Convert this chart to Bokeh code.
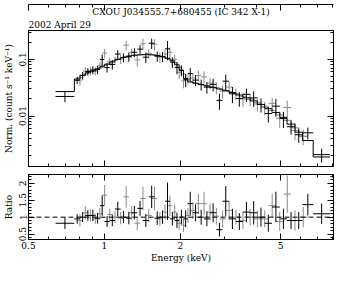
import numpy as np
from bokeh.plotting import figure
from bokeh.layouts import column
from bokeh.models import (FixedTicker, LogAxis, LinearAxis, Range1d, Span, Title,
                          ColumnDataSource, NumeralTickFormatter, CustomLabelingPolicy)
from bokeh.embed import file_html
from bokeh.resources import INLINE

# ---------------- data ----------------
title_text = "CXOU J034555.7+680455 (IC 342 X-1)"
date_text = "2002 April 29"

black_edges = [0.64, 0.76, 0.80, 0.84, 0.88, 0.92, 0.96, 1.00, 1.05, 1.10, 1.16, 1.22,
               1.28, 1.35, 1.42, 1.50, 1.58, 1.66, 1.74, 1.82, 1.90, 1.98, 2.06, 2.14,
               2.24, 2.36, 2.48, 2.62, 2.78, 2.94, 3.12, 3.32, 3.54, 3.78, 4.04, 4.32,
               4.62, 4.96, 5.30, 5.70, 6.10, 6.73, 7.85]
black_model = [0.027, 0.045, 0.052, 0.058, 0.062, 0.068, 0.074, 0.082, 0.090, 0.100,
               0.108, 0.114, 0.118, 0.120, 0.121, 0.120, 0.117, 0.112, 0.104, 0.094,
               0.080, 0.064, 0.046, 0.040, 0.038, 0.036, 0.034, 0.032, 0.030, 0.028,
               0.026, 0.0235, 0.021, 0.0185, 0.016, 0.0135, 0.0115, 0.0095, 0.0072,
               0.0052, 0.0037, 0.0019]
black_ratio = [0.82, 0.95, 1.00, 1.05, 1.05, 0.97, 1.34, 0.87, 0.90, 1.24, 1.00, 0.97,
               1.13, 1.26, 0.90, 1.60, 0.97, 1.00, 1.47, 0.95, 0.90, 1.00, 0.95, 1.40,
               1.13, 1.00, 0.95, 1.13, 0.63, 1.47, 0.95, 0.87, 1.15, 1.13, 1.00, 0.82,
               1.30, 0.95, 0.90, 0.90, 1.37, 1.10]
black_err = [0.17, 0.14, 0.15, 0.16, 0.17, 0.16, 0.30, 0.16, 0.17, 0.21, 0.18, 0.18,
             0.20, 0.22, 0.19, 0.33, 0.20, 0.20, 0.55, 0.20, 0.22, 0.22, 0.25, 0.35,
             0.25, 0.22, 0.22, 0.28, 0.20, 0.45, 0.30, 0.25, 0.30, 0.35, 0.28, 0.25,
             0.45, 0.30, 0.25, 0.25, 0.32, 0.30]

gray_edges = [0.78, 0.82, 0.86, 0.90, 0.94, 0.98, 1.025, 1.075, 1.13, 1.19, 1.25, 1.315,
              1.385, 1.46, 1.54, 1.62, 1.70, 1.78, 1.86, 1.94, 2.02, 2.10, 2.19, 2.30,
              2.42, 2.55, 2.70, 2.86, 3.03, 3.22, 3.43, 3.66, 3.91, 4.18, 4.47, 4.79,
              5.13, 5.50, 5.90, 6.40]
gray_model = [0.048, 0.055, 0.060, 0.065, 0.071, 0.078, 0.086, 0.095, 0.104, 0.111,
              0.116, 0.119, 0.121, 0.121, 0.119, 0.115, 0.108, 0.099, 0.087, 0.072,
              0.055, 0.043, 0.039, 0.037, 0.035, 0.033, 0.031, 0.029, 0.027, 0.0248,
              0.0222, 0.0198, 0.0172, 0.0148, 0.0125, 0.0105, 0.0084, 0.0062, 0.0044]
gray_ratio = [0.90, 1.13, 1.05, 0.95, 1.10, 1.65, 1.08, 1.00, 0.97, 1.60, 1.13, 0.82,
              1.55, 1.05, 1.55, 0.95, 1.15, 1.34, 1.15, 0.82, 0.76, 1.05, 1.20, 1.40,
              1.40, 1.15, 1.03, 0.95, 1.20, 1.00, 0.90, 1.00, 0.95, 0.95, 1.34, 0.87,
              1.68, 0.90, 1.00]
gray_err = [0.18, 0.20, 0.18, 0.15, 0.18, 0.30, 0.17, 0.17, 0.18, 0.32, 0.20, 0.20,
            0.35, 0.20, 0.35, 0.20, 0.22, 0.30, 0.22, 0.20, 0.20, 0.22, 0.25, 0.30,
            0.35, 0.25, 0.25, 0.25, 0.28, 0.22, 0.25, 0.25, 0.25, 0.25, 0.35, 0.28,
            0.55, 0.30, 0.30]

x_ticks = [0.5, 1, 2, 5]
x_minor = [0.6, 0.7, 0.8, 0.9, 3, 4, 6, 7, 8]
norm_ticks = [0.01, 0.1]
norm_minor = [0.002, 0.003, 0.004, 0.005, 0.006, 0.007, 0.008, 0.009,
              0.02, 0.03, 0.04, 0.05, 0.06, 0.07, 0.08, 0.09, 0.2, 0.3]
ratio_ticks = [0.5, 1, 1.5, 2]
ratio_minor = [0.4, 0.6, 0.7, 0.8, 0.9, 1.1, 1.2, 1.3, 1.4, 1.6, 1.7, 1.8, 1.9, 2.1, 2.2]

# ---------------- styling ----------------
FONT = "DejaVu Serif"
BLACK = "#000000"
GRAY = "#8a8a8a"
W = 338
LB = 27
RB = 2

NO_LABELS = CustomLabelingPolicy(code="""
for (const i of Array.from(indices)) { indices.unset(i) }
return indices
""")


def prep(edges, model, ratio, err):
    lo = np.array(edges[:-1])
    hi = np.array(edges[1:])
    mid = np.sqrt(lo * hi)
    m = np.array(model)
    r = np.array(ratio)
    e = np.array(err)
    return ColumnDataSource(dict(lo=lo, hi=hi, mid=mid, norm=m * r,
                                 nlo=m * (r - e), nhi=m * (r + e),
                                 ratio=r, rlo=r - e, rhi=r + e))


def style_axis(ax, ticks, minor, labels=True, fmt="0.[00]", vertical=False):
    ax.ticker = FixedTicker(ticks=ticks, minor_ticks=minor)
    ax.major_tick_in = 6
    ax.major_tick_out = 0
    ax.minor_tick_in = 3
    ax.minor_tick_out = 0
    ax.axis_line_color = BLACK
    ax.major_tick_line_color = BLACK
    ax.minor_tick_line_color = BLACK
    ax.formatter = NumeralTickFormatter(format=fmt)
    ax.major_label_text_font = FONT
    ax.major_label_text_font_size = "9px"
    ax.major_label_text_color = BLACK
    ax.axis_label_text_font = FONT
    ax.axis_label_text_font_size = "9px"
    ax.axis_label_text_font_style = "normal"
    ax.axis_label_text_color = BLACK
    ax.major_label_standoff = 2
    ax.axis_label_standoff = 3
    if vertical:
        ax.major_label_orientation = "vertical"
    if not labels:
        ax.major_label_policy = NO_LABELS
        ax.major_label_text_font_size = "1px"
        ax.major_label_standoff = 0


bsrc = prep(black_edges, black_model, black_ratio, black_err)
gsrc = prep(gray_edges, gray_model, gray_ratio, gray_err)

# ---------------- upper panel ----------------
p1 = figure(width=W, height=170, x_axis_type="log", y_axis_type="log",
            x_range=Range1d(0.5, 8.1), y_range=Range1d(0.00129, 0.322),
            x_axis_location=None, y_axis_location=None,
            output_backend="svg", toolbar_location=None,
            min_border_left=LB, min_border_right=RB, min_border_top=19, min_border_bottom=0)
p1.grid.visible = False
p1.outline_line_color = BLACK
p1.background_fill_color = "white"
p1.border_fill_color = "white"

p1.add_layout(Title(text=date_text, align="left", text_font=FONT, text_font_size="9px",
                    text_font_style="normal", text_color=BLACK, standoff=1, offset=0), "above")
p1.add_layout(Title(text=title_text, align="center", text_font=FONT, text_font_size="9px",
                    text_font_style="normal", text_color=BLACK, standoff=1), "above")

ax = LogAxis(axis_label="Norm. (count s⁻¹ keV⁻¹)")
style_axis(ax, norm_ticks, norm_minor, vertical=True)
p1.add_layout(ax, "left")
ax = LogAxis()
style_axis(ax, norm_ticks, norm_minor, labels=False)
p1.add_layout(ax, "right")
ax = LogAxis()
style_axis(ax, x_ticks, x_minor, labels=False)
p1.add_layout(ax, "below")
ax = LogAxis()
style_axis(ax, x_ticks, x_minor, labels=False)
p1.add_layout(ax, "above")

# model steps
p1.step(x=gray_edges, y=gray_model + [gray_model[-1]], mode="after", color=GRAY, line_width=1)
# data crosses
p1.segment(x0="lo", x1="hi", y0="norm", y1="norm", source=gsrc, color=GRAY, line_width=1)
p1.segment(x0="mid", x1="mid", y0="nlo", y1="nhi", source=gsrc, color=GRAY, line_width=1)
p1.step(x=black_edges, y=black_model + [black_model[-1]], mode="after", color=BLACK, line_width=1)
p1.segment(x0="lo", x1="hi", y0="norm", y1="norm", source=bsrc, color=BLACK, line_width=1)
p1.segment(x0="mid", x1="mid", y0="nlo", y1="nhi", source=bsrc, color=BLACK, line_width=1)

# ---------------- lower panel ----------------
p2 = figure(width=W, height=95, x_axis_type="log",
            x_range=p1.x_range, y_range=Range1d(0.34, 2.26),
            x_axis_location=None, y_axis_location=None,
            output_backend="svg", toolbar_location=None,
            min_border_left=LB, min_border_right=RB, min_border_top=0, min_border_bottom=22)
p2.grid.visible = False
p2.outline_line_color = BLACK
p2.background_fill_color = "white"
p2.border_fill_color = "white"

ax = LinearAxis(axis_label="Ratio")
style_axis(ax, ratio_ticks, ratio_minor, fmt="0.[0]", vertical=True)
p2.add_layout(ax, "left")
ax = LinearAxis()
style_axis(ax, ratio_ticks, ratio_minor, labels=False)
p2.add_layout(ax, "right")
ax = LogAxis(axis_label="Energy (keV)")
style_axis(ax, x_ticks, x_minor, fmt="0.[0]")
ax.axis_label_standoff = 1
p2.add_layout(ax, "below")
ax = LogAxis()
style_axis(ax, x_ticks, x_minor, labels=False)
p2.add_layout(ax, "above")

p2.add_layout(Span(location=1, dimension="width", line_color=BLACK, line_dash="5 3", line_width=1))
p2.segment(x0="lo", x1="hi", y0="ratio", y1="ratio", source=gsrc, color=GRAY, line_width=1)
p2.segment(x0="mid", x1="mid", y0="rlo", y1="rhi", source=gsrc, color=GRAY, line_width=1)
p2.segment(x0="lo", x1="hi", y0="ratio", y1="ratio", source=bsrc, color=BLACK, line_width=1)
p2.segment(x0="mid", x1="mid", y0="rlo", y1="rhi", source=bsrc, color=BLACK, line_width=1)

layout = column(p1, p2, spacing=0)
open("out.html", "w").write(file_html(layout, INLINE))
